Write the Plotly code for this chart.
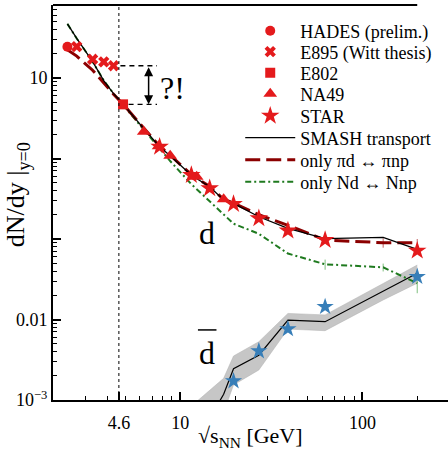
import numpy as np
import plotly.graph_objects as go

# ---------------- data ----------------
hades_x = [2.4]
hades_y = [24.5]
e895_x = [2.7, 3.3, 3.8, 4.3]
e895_y = [24.5, 17.1, 15.9, 14.2]
e802_x = [4.85]
e802_y = [4.71]
na49_x = [6.3, 7.6, 8.8, 12.3, 17.3]
na49_y = [2.15, 1.42, 1.08, 0.594, 0.311]
star_x = [7.7, 11.5, 14.5, 19.6, 27, 39, 62.4, 200]
star_y = [1.40, 0.624, 0.427, 0.272, 0.181, 0.127, 0.0973, 0.0716]
stard_x = [19.6, 27, 39, 62.4, 200]
stard_y = [0.00172, 0.00406, 0.00762, 0.0144, 0.034]

model_x = [2.4, 2.7, 3.3, 3.8, 4.3, 4.9, 6.3, 7.7, 8.8, 11.5, 14.5, 17.3, 19.6, 27, 39, 62.4, 130, 200]
smash_y = [47, 31, 16, 9.3, 6.4, 4.6, 2.35, 1.40, 1.08, 0.62, 0.445, 0.305, 0.277, 0.189, 0.136, 0.101, 0.105, 0.0745]
pid_y = [22.5, 18.7, 12.5, 8.6, 6.3, 4.6, 2.35, 1.42, 1.10, 0.63, 0.45, 0.31, 0.28, 0.20, 0.148, 0.097, 0.090, 0.090]
pid_err = [0, 0, 0, 0, 0, 0, 0, 0, 0, 0, 0, 0, 0, 0, 0, 0, 0.012, 0.010]
nd_y = [47, 31, 16, 9.3, 6.4, 4.5, 2.25, 1.30, 0.93, 0.48, 0.29, 0.20, 0.155, 0.116, 0.066, 0.0485, 0.0445, 0.0282]
nd_err = [0, 0, 0, 0, 0, 0, 0, 0, 0, 0, 0, 0, 0, 0, 0, 0.007, 0.005, 0.007]

dbar_x = [11.5, 14.5, 17.3, 19.6, 27, 39, 62.4, 130, 200]
dbar_y = [0.0002, 0.00059, 0.00118, 0.00245, 0.0036, 0.0098, 0.0094, 0.0225, 0.0375]
dbar_lo = [0.0001, 0.0002, 0.0007, 0.00154, 0.00236, 0.0076, 0.00726, 0.0175, 0.0282]
dbar_hi = [0.00084, 0.00132, 0.00186, 0.00352, 0.0053, 0.0119, 0.0114, 0.028, 0.0475]

x_ticks = [4.6, 10, 100]
x_ticktext = ["4.6", "10", "100"]
y_ticks = [0.001, 0.01, 0.1, 1, 10]
y_ticktext = ["10<sup>\u22123</sup>", "0.01", "", "", "10"]

RED = "#e41a1c"
BLUE = "#377eb8"
DRED = "#8b0000"
GREEN = "#1f7a1f"
FONT = "Liberation Serif"

fig = go.Figure()

# band for anti-deuteron SMASH
fig.add_trace(go.Scatter(x=dbar_x, y=dbar_lo, mode="lines", line=dict(width=0.5, color="#b0b0b0"),
                         showlegend=False, hoverinfo="skip"))
fig.add_trace(go.Scatter(x=dbar_x, y=dbar_hi, mode="lines", line=dict(width=0.5, color="#b0b0b0"),
                         fill="tonexty", fillcolor="#c6c6c6", showlegend=False, hoverinfo="skip"))
fig.add_trace(go.Scatter(x=dbar_x, y=dbar_y, mode="lines", line=dict(width=1.2, color="black"),
                         showlegend=False))

# model lines
fig.add_trace(go.Scatter(x=model_x, y=nd_y, mode="lines", name="only Nd \u2194 Nnp", legend="legend8",
                         line=dict(color=GREEN, width=2, dash="6px,3px,2px,3px"),
                         error_y=dict(type="data", array=nd_err, color="#7fbf7f", thickness=1, width=0)))
fig.add_trace(go.Scatter(x=model_x, y=pid_y, mode="lines", name="only \u03c0d \u2194 \u03c0np", legend="legend7",
                         line=dict(color=DRED, width=3, dash="15px,6px"),
                         error_y=dict(type="data", array=pid_err, color="#c06060", thickness=1, width=0)))
fig.add_trace(go.Scatter(x=model_x, y=smash_y, mode="lines", name="SMASH transport", legend="legend6",
                         line=dict(color="black", width=1.3)))

# data markers
fig.add_trace(go.Scatter(x=hades_x, y=hades_y, mode="markers", name="HADES (prelim.)", legend="legend",
                         marker=dict(symbol="circle", size=10, color=RED)))
fig.add_trace(go.Scatter(x=e895_x, y=e895_y, mode="markers", name="E895 (Witt thesis)", legend="legend2",
                         marker=dict(symbol="x", size=10, color=RED)))
fig.add_trace(go.Scatter(x=e802_x, y=e802_y, mode="markers", name="E802", legend="legend3",
                         marker=dict(symbol="square", size=10, color=RED)))
fig.add_trace(go.Scatter(x=na49_x, y=na49_y, mode="markers", name="NA49", legend="legend4",
                         marker=dict(symbol="triangle-up", size=12, color=RED)))
fig.add_trace(go.Scatter(x=star_x, y=star_y, mode="markers", name="STAR", legend="legend5",
                         marker=dict(symbol="star", size=14, color=RED)))
fig.add_trace(go.Scatter(x=stard_x, y=stard_y, mode="markers", showlegend=False,
                         marker=dict(symbol="star", size=13, color=BLUE)))

minor_x = [2, 3, 4, 5, 6, 7, 8, 9, 20, 30, 40, 50, 60, 70, 80, 90, 200]
minor_y = [k * 10.0 ** e for e in range(-3, 2) for k in range(2, 10) if k * 10.0 ** e < 80]

fig.update_xaxes(type="log", range=[np.log10(2), 2.47], tickvals=x_ticks, ticktext=x_ticktext,
                 ticks="inside", ticklen=8, tickwidth=1.5, tickcolor="black", ticklabelstandoff=5,
                 showline=True, linewidth=2, linecolor="black", mirror=False,
                 showgrid=False, zeroline=False,
                 tickfont=dict(family=FONT, size=18, color="black"),
                 minor=dict(tickmode="array", tickvals=minor_x, ticks="inside", ticklen=4,
                            tickwidth=1, tickcolor="black", showgrid=False))
fig.update_yaxes(type="log", range=[-3, 1.907], tickvals=y_ticks, ticktext=y_ticktext,
                 ticks="inside", ticklen=8, tickwidth=1.5, tickcolor="black",
                 showline=True, linewidth=2, linecolor="black", mirror=False,
                 showgrid=False, zeroline=False,
                 tickfont=dict(family=FONT, size=18, color="black"),
                 minor=dict(tickmode="array", tickvals=minor_y, ticks="inside", ticklen=4,
                            tickwidth=1, tickcolor="black", showgrid=False))

shapes = [
    # vertical dotted line at 4.6
    dict(type="line", xref="x", yref="paper", x0=4.6, x1=4.6, y0=0, y1=1,
         line=dict(color="black", width=1, dash="dot")),
    # top frame line
    dict(type="line", xref="x", yref="paper", x0=2, x1=200, y0=1, y1=1,
         line=dict(color="black", width=2)),
    # dashed guide lines
    dict(type="line", xref="x", yref="y", x0=4.69, x1=7.45, y0=14.2, y1=14.2,
         line=dict(color="black", width=1.3, dash="5px,4px")),
    dict(type="line", xref="x", yref="y", x0=5.2, x1=7.45, y0=4.71, y1=4.71,
         line=dict(color="black", width=1.3, dash="5px,4px")),
    # overline for anti-deuteron label
    dict(type="line", xref="x", yref="y", x0=12.5, x1=15.8, y0=0.00742, y1=0.00742,
         line=dict(color="black", width=1.5)),
]

annotations = [
    dict(x=np.log10(6.7), y=np.log10(4.71), ax=np.log10(6.7), ay=np.log10(14.2), axref="x", ayref="y",
         xref="x", yref="y", text="", showarrow=True, arrowside="end+start", arrowhead=2,
         arrowsize=1.2, arrowwidth=1.5, arrowcolor="black", standoff=0, startstandoff=0),
    dict(x=np.log10(9.04), y=np.log10(7.62), xref="x", yref="y", text="?!", showarrow=False,
         font=dict(family=FONT, size=32, color="black")),
    dict(x=np.log10(14.0), y=np.log10(0.119), xref="x", yref="y", text="d", showarrow=False,
         font=dict(family=FONT, size=32, color="black")),
    dict(x=np.log10(14.0), y=np.log10(0.00384), xref="x", yref="y", text="d", showarrow=False,
         font=dict(family=FONT, size=32, color="black")),
    dict(x=-0.092, y=0.52, xref="paper", yref="paper", xanchor="center", yanchor="middle",
         text="dN/dy |<sub>y=0</sub>", textangle=-90,
         showarrow=False, font=dict(family=FONT, size=26, color="black")),
    dict(x=0.5, y=-0.094, xref="paper", yref="paper", xanchor="center", yanchor="middle",
         text="\u221As<sub>NN</sub> [GeV]",
         showarrow=False, font=dict(family=FONT, size=22, color="black")),
]

legend_rows_px = [31, 52, 73, 94, 116, 138, 160, 182]
legend_names = ["legend"] + ["legend%d" % i for i in range(2, 9)]
legend_layout = {}
for name, py in zip(legend_names, legend_rows_px):
    legend_layout[name] = dict(x=0.474, y=(400 - py) / 395.0, xanchor="left", yanchor="middle",
                               bgcolor="rgba(0,0,0,0)", borderwidth=0,
                               font=dict(family=FONT, size=18, color="black"), itemwidth=50)

fig.update_layout(
    width=448, height=452,
    margin=dict(l=53, r=0, t=5, b=52),
    paper_bgcolor="white", plot_bgcolor="white",
    shapes=shapes, annotations=annotations,
    font=dict(family=FONT, size=18, color="black"),
    showlegend=True,
    **legend_layout,
)

fig.write_html("out.html")
